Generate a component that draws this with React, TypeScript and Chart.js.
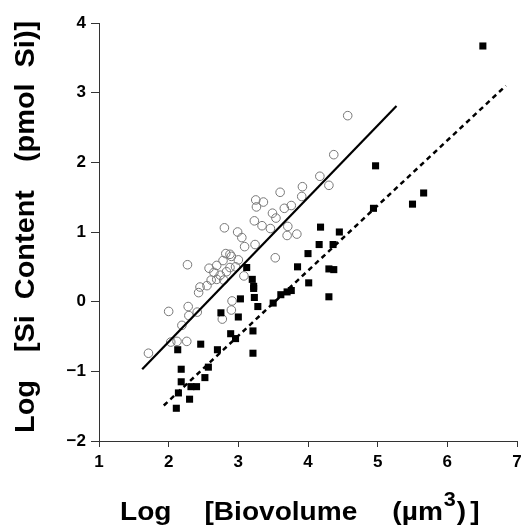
import React, { useEffect, useRef } from "react";
import { Chart, registerables } from "chart.js";

Chart.register(...registerables);

const FONT = '"Liberation Sans", Arial, Helvetica, sans-serif';

// Open circles (grey)
const circleX = [4.57, 4.37, 4.17, 4.30, 3.92, 3.91, 3.60, 3.25, 3.36, 3.26, 3.76, 3.66, 3.49, 3.54, 3.23, 3.34, 3.46, 3.71, 3.70, 3.84, 2.80, 2.99, 3.05, 3.09, 3.24, 3.53, 2.82, 2.88, 2.90, 3.00, 2.78, 2.69, 2.58, 2.27, 2.88, 2.96, 2.65, 2.74, 2.61, 2.69, 2.79, 2.83, 3.08, 2.45, 2.43, 2.55, 2.91, 2.90, 2.77, 2.28, 2.41, 2.29, 2.00, 2.19, 2.03, 2.12, 2.26, 1.71];
const circleY = [2.67, 2.11, 1.80, 1.67, 1.65, 1.51, 1.57, 1.46, 1.43, 1.36, 1.38, 1.34, 1.27, 1.20, 1.16, 1.09, 1.05, 1.08, 0.95, 0.97, 1.06, 1.00, 0.92, 0.79, 0.82, 0.63, 0.69, 0.68, 0.65, 0.60, 0.59, 0.52, 0.48, 0.53, 0.49, 0.50, 0.42, 0.38, 0.31, 0.32, 0.31, 0.43, 0.37, 0.21, 0.13, 0.23, 0.01, -0.12, -0.25, -0.07, -0.15, -0.20, -0.14, -0.34, -0.58, -0.57, -0.57, -0.74];

// Filled squares (black)
const squareX = [6.51, 4.97, 4.94, 5.50, 5.66, 4.18, 4.45, 4.16, 4.36, 4.00, 3.85, 4.30, 4.37, 4.01, 4.30, 3.76, 3.70, 3.61, 3.50, 3.12, 3.20, 3.22, 3.22, 3.23, 3.28, 3.03, 3.00, 2.75, 2.89, 2.96, 3.21, 3.21, 2.70, 2.46, 2.13, 2.57, 2.18, 2.18, 2.52, 2.32, 2.40, 2.14, 2.30, 2.11];
const squareY = [3.67, 1.95, 1.34, 1.40, 1.56, 1.07, 1.00, 0.82, 0.82, 0.69, 0.50, 0.47, 0.46, 0.27, 0.07, 0.16, 0.14, 0.10, -0.02, 0.49, 0.32, 0.22, 0.19, 0.06, -0.07, 0.04, -0.22, -0.16, -0.46, -0.53, -0.42, -0.74, -0.69, -0.61, -0.69, -0.94, -0.97, -1.15, -1.09, -1.22, -1.22, -1.31, -1.40, -1.53];

// Regression lines (end points)
const solidLineX = [1.62, 5.27];
const solidLineY = [-0.97, 2.81];
const dashedLineX = [1.93, 6.84];
const dashedLineY = [-1.49, 3.1];

// Axes
const xMin = 1, xMax = 7, yMin = -2, yMax = 4;

// Titles
const xTitleWords = ["Log", "[Biovolume", "(µm", "3", ")", "]"];
const yTitleWords = ["Log", "[Si", "Content", "(pmol", "Si)]"];

const toPts = (xs: number[], ys: number[]) => xs.map((x, i) => ({ x, y: ys[i] }));

type Run = { text: string; size: number; dy: number; gap: number };

function drawRuns(ctx: CanvasRenderingContext2D, x0: number, y0: number, runs: Run[], sx: number) {
  let x = x0;
  for (const r of runs) {
    x += r.gap;
    ctx.font = `bold ${r.size}px ${FONT}`;
    ctx.save();
    ctx.translate(x, y0 + r.dy);
    ctx.scale(sx, 1);
    ctx.fillText(r.text, 0, 0);
    ctx.restore();
    x += ctx.measureText(r.text).width * sx;
  }
}

const titlePlugin = {
  id: "customTitles",
  afterDraw(chart: any) {
    const ctx: CanvasRenderingContext2D = chart.ctx;
    ctx.save();
    ctx.fillStyle = "#000";
    ctx.textAlign = "left";
    ctx.textBaseline = "alphabetic";
    const xRuns: Run[] = [
      { text: xTitleWords[0], size: 26, dy: 0, gap: 0 },
      { text: xTitleWords[1], size: 26, dy: 0, gap: 33 },
      { text: xTitleWords[2], size: 26, dy: 0, gap: 35 },
      { text: xTitleWords[3], size: 20, dy: -14, gap: 1 },
      { text: xTitleWords[4], size: 26, dy: 0, gap: 1 },
      { text: xTitleWords[5], size: 26, dy: 0, gap: 4 },
    ];
    drawRuns(ctx, 120, 520, xRuns, 1.08);
    ctx.translate(34, 433);
    ctx.rotate(-Math.PI / 2);
    const gaps = [0, 28, 16, 28, 16];
    const yRuns: Run[] = yTitleWords.map((t, i) => ({ text: t, size: 27, dy: 0, gap: gaps[i] }));
    drawRuns(ctx, 0, 0, yRuns, 1.07);
    ctx.restore();
  },
};

export default function App() {
  const ref = useRef<HTMLCanvasElement | null>(null);
  useEffect(() => {
    if (!ref.current) return;
    const tickFont = { family: FONT, size: 17, weight: "bold" as const };
    const chart = new Chart(ref.current, {
      type: "scatter",
      data: {
        datasets: [
          {
            type: "line",
            data: toPts(solidLineX, solidLineY),
            borderColor: "#000",
            borderWidth: 2.2,
            pointRadius: 0,
            fill: false,
          } as any,
          {
            type: "line",
            data: toPts(dashedLineX, dashedLineY),
            borderColor: "#000",
            borderWidth: 2.5,
            borderDash: [5, 4],
            pointRadius: 0,
            fill: false,
          } as any,
          {
            data: toPts(squareX, squareY),
            pointStyle: "rect",
            pointRadius: 5,
            backgroundColor: "#000",
            borderColor: "#000",
            borderWidth: 0,
          },
          {
            data: toPts(circleX, circleY),
            pointStyle: "circle",
            pointRadius: 4.3,
            backgroundColor: "rgba(0,0,0,0)",
            borderColor: "#777",
            borderWidth: 1,
          },
        ],
      },
      options: {
        responsive: false,
        animation: false,
        devicePixelRatio: 1,
        layout: { padding: { top: 23, right: 6, left: 0, bottom: 0 } },
        plugins: { legend: { display: false }, tooltip: { enabled: false }, title: { display: false } },
        scales: {
          x: {
            type: "linear",
            min: xMin,
            max: xMax,
            afterFit: (s: any) => {
              s.height = 88;
              s.paddingLeft = 0;
              s.paddingRight = 0;
            },
            border: { display: true, color: "#333", width: 1 },
            grid: { drawOnChartArea: false, drawTicks: true, tickLength: 6, color: "#333", lineWidth: 1 },
            ticks: { stepSize: 1, color: "#000", font: tickFont, padding: 5, maxRotation: 0 },
          },
          y: {
            type: "linear",
            min: yMin,
            max: yMax,
            afterFit: (s: any) => {
              s.width = 99;
              s.paddingTop = 0;
              s.paddingBottom = 0;
            },
            border: { display: true, color: "#333", width: 1 },
            grid: { drawOnChartArea: false, drawTicks: true, tickLength: 8, color: "#333", lineWidth: 1 },
            ticks: {
              stepSize: 1,
              color: "#000",
              font: tickFont,
              padding: 5,
              callback: (v: any) => (Number(v) < 0 ? "\u2212" + Math.abs(Number(v)) : String(v)),
            },
          },
        },
      },
      plugins: [titlePlugin],
    });
    return () => chart.destroy();
  }, []);
  return (
    <div style={{ position: "fixed", left: 0, top: 0, width: 523, height: 529, background: "#fff" }}>
      <canvas ref={ref} width={523} height={529} style={{ display: "block" }} />
    </div>
  );
}
